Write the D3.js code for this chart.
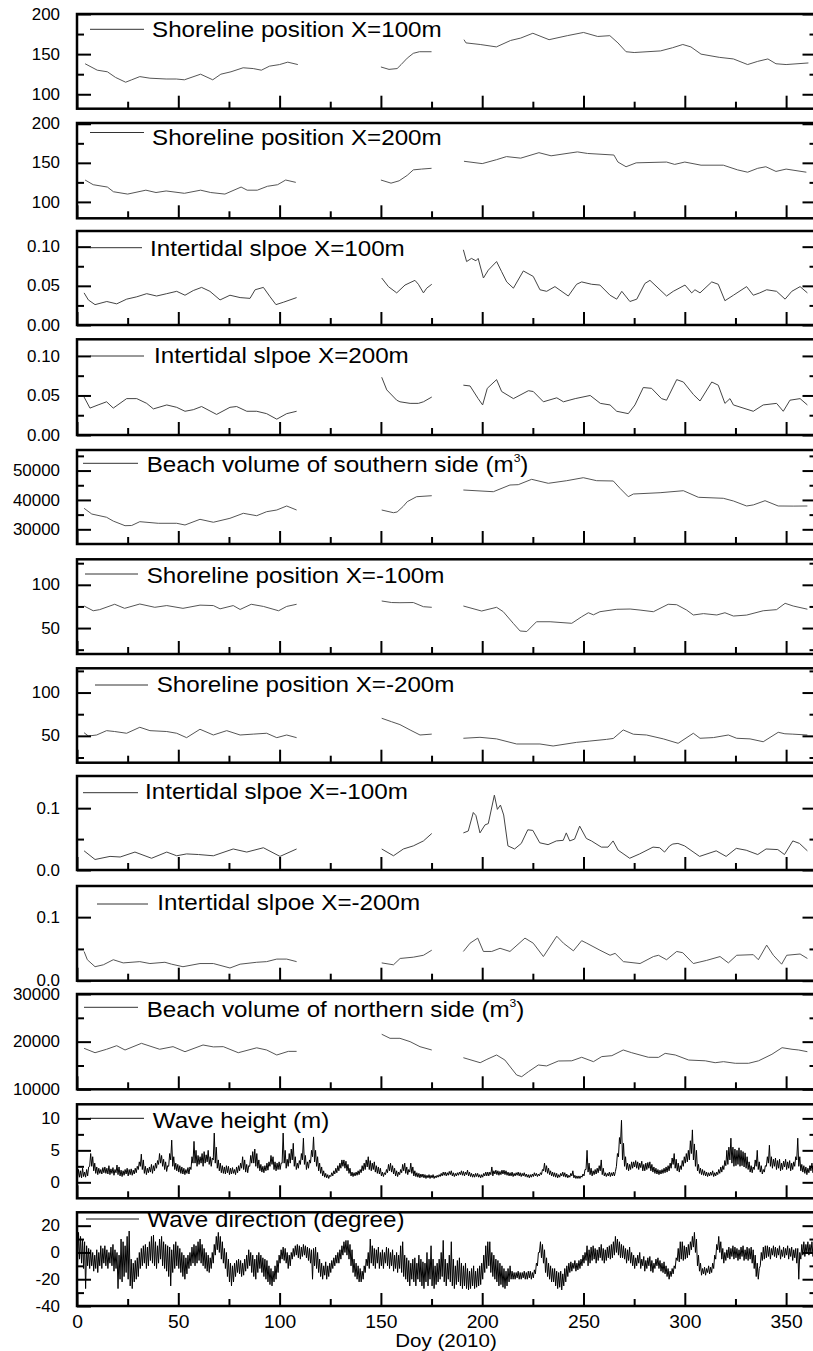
<!DOCTYPE html>
<html><head><meta charset="utf-8">
<script src="https://cdn.jsdelivr.net/npm/d3@7"></script>
<style>body{margin:0;background:#fff}svg{display:block}</style>
</head><body>
<svg id="c" width="813" height="1351"></svg>
<script>
// ---------------- DATA ----------------
const xMajor = [0,50,100,150,200,250,300,350];
const xMinor = [25,75,125,175,225,275,325];
const xTitle = "Doy (2010)";

const titles = ["Shoreline position X=100m","Shoreline position X=200m","Intertidal slpoe X=100m","Intertidal slpoe X=200m",
 "Beach volume of southern side (m","Shoreline position X=-100m","Shoreline position X=-200m","Intertidal slpoe X=-100m",
 "Intertidal slpoe X=-200m","Beach volume of northern side (m","Wave height (m)","Wave direction (degree)"];
const titleSup = [null,null,null,null,"3",null,null,null,null,"3",null,null];

const domains = [[82,200],[79,201],[0,0.12],[0,0.121],[25000,57000],[20,129.5],[19,128],[0,0.152],[0,0.149],[10000,30000],[-2.5,12.2],[-40,30]];
const yMajor = [[100,150,200],[100,150,200],[0,0.05,0.1],[0,0.05,0.1],[30000,40000,50000],[50,100],[50,100],[0,0.1],[0,0.1],[10000,20000,30000],[0,5,10],[-40,-20,0,20]];
const yMinor = [[125,175],[125,175],[0.025,0.075],[0.025,0.075],[35000,45000,55000],[25,75,125],[25,75,125],[0.05],[0.05],[15000,25000],[2.5,7.5],[-30,-10,10]];
const yDecimals = [0,0,2,2,0,0,0,1,1,0,0,0];

const shore100 = [[4,138],[10,130],[15,128],[19,121],[24,115],[27,118],[31,122],[36,120],[44,119],[49,119],[53,118],[61,125],[67,118],[71,125],[76,128],[82,133],[87,132],[91,130],[95,135],[100,137],[104,140],[109,137],null,
 [150,134],[154,131],[158,132],[160,137],[163,145],[166,151],[169,153],[175,153],null,
 [191,168],[192,164],[199,162],[207,159],[214,167],[219,170],[225,176],[233,168],[242,173],[250,177],[257,172],[263,173],[267,164],[271,153],[275,152],[288,154],[294,158],[299,162],[303,159],[308,150],[317,146],[324,144],[331,137],[336,141],[341,144],[345,138],[350,137],[361,139]];

const shore200 = [[4,128],[8,122],[15,119],[18,113],[25,110],[34,115],[39,112],[44,114],[53,111],[61,115],[66,112],[73,110],[81,119],[84,115],[89,115],[94,120],[99,122],[103,128],[108,125],null,
 [150,128],[155,124],[159,127],[163,134],[166,141],[170,142],[175,143],null,
 [191,152],[200,149],[207,154],[212,158],[219,156],[228,163],[234,159],[247,164],[252,162],[265,160],[267,151],[271,145],[276,150],[291,151],[295,148],[300,151],[308,147],[319,147],[326,141],[331,138],[336,143],[340,145],[345,139],[350,142],[360,138]];

const slope100 = [[3.5,0.041],[5.6,0.032],[8.9,0.026],[14.7,0.030],[19.6,0.027],[24.5,0.033],[29.5,0.036],[34.4,0.040],[39.3,0.037],[44.3,0.040],[49.2,0.043],[53.3,0.038],[57.4,0.044],[61.5,0.048],[65.6,0.043],[70.6,0.032],[75.5,0.038],[80.5,0.035],[85.4,0.034],[87.9,0.045],[92,0.048],[95.3,0.036],[98.2,0.026],[101.8,0.029],[108.4,0.035],null,
 [150.4,0.060],[153.7,0.049],[157.8,0.041],[161.9,0.051],[166.8,0.057],[168.5,0.052],[171,0.041],[172.6,0.047],[175.1,0.052],null,
 [190.7,0.096],[192.3,0.081],[194.7,0.085],[196.9,0.082],[198,0.085],[200.6,0.060],[203,0.070],[207.1,0.081],[209.6,0.068],[212.1,0.055],[215.4,0.047],[220.3,0.069],[225.2,0.062],[228.5,0.045],[231.8,0.043],[235.9,0.049],[242.5,0.037],[246.6,0.052],[249.1,0.055],[254,0.052],[258.1,0.051],[263.1,0.038],[266.4,0.033],[268.9,0.043],[272.9,0.030],[276.3,0.033],[280.3,0.053],[282.8,0.057],[291,0.037],[294.3,0.043],[300.1,0.051],[303.4,0.041],[305,0.045],[307.5,0.041],[313.3,0.055],[316.5,0.052],[319.8,0.031],[324,0.038],[330.5,0.049],[333.8,0.038],[337,0.041],[340.4,0.045],[345.3,0.043],[349.5,0.033],[352.8,0.043],[356.9,0.049],[360.5,0.041]];

const slope200 = [[3.5,0.048],[6.4,0.034],[10.4,0.038],[14.6,0.042],[17.9,0.034],[24.5,0.046],[29.5,0.046],[34.4,0.040],[37.7,0.033],[44.3,0.038],[49.2,0.035],[53.3,0.030],[57.4,0.032],[61.5,0.036],[68.9,0.026],[75.5,0.035],[78.8,0.036],[83.8,0.030],[88.7,0.030],[93.6,0.027],[98.6,0.020],[103.5,0.027],[108.4,0.030],null,
 [150.4,0.073],[152.9,0.057],[157.8,0.044],[159.4,0.042],[164.4,0.040],[168.5,0.040],[171,0.042],[175.1,0.048],null,
 [190.7,0.063],[194,0.062],[198,0.046],[200.2,0.038],[202.5,0.059],[207.1,0.070],[209.6,0.055],[215.4,0.046],[222.8,0.056],[225.2,0.055],[230.2,0.042],[236.8,0.047],[240.1,0.042],[245.9,0.046],[253.3,0.050],[258.3,0.040],[263.1,0.038],[266.4,0.030],[272.1,0.027],[275.4,0.038],[279.5,0.060],[283.6,0.059],[288.5,0.046],[291,0.044],[296,0.070],[299.3,0.067],[304.3,0.051],[307.5,0.043],[313.3,0.067],[316.5,0.063],[319.8,0.040],[322.3,0.046],[324,0.038],[333.8,0.030],[338.7,0.038],[345.3,0.040],[348.6,0.030],[351.9,0.044],[356.9,0.046],[360.5,0.038]];

const volSouth = [[3.5,37150],[7.3,35200],[14.6,34100],[17.9,32800],[23.7,31230],[27,31300],[31,32600],[40.1,32050],[49.2,32050],[53.3,31470],[60.7,33400],[67.3,32400],[75.5,33750],[82.1,35450],[88.7,34630],[93.6,36000],[98.6,36570],[103.5,37940],[108.4,36570],null,
 [150.4,36570],[156.2,35650],[158,35900],[161,37800],[163,39400],[167.6,41100],[175.1,41440],null,
 [190.7,43380],[205.5,42800],[213.7,45080],[217.8,45200],[224.4,47020],[232.6,45660],[241.7,46550],[249.9,47570],[256.5,46550],[264.7,46450],[268,43960],[272.1,41100],[274.6,42020],[287.8,42460],[299.3,43140],[306.7,40900],[319,40560],[324,39640],[330.5,37940],[333.8,38300],[339.6,39740],[346.1,37940],[353.5,37900],[360.5,37940]];

const shoreM100 = [[3.5,75.5],[8,70],[11.2,71.3],[18.6,77.5],[23.5,72.8],[31,77.8],[38.4,74],[44.3,76],[52.3,72.8],[60.7,76.5],[67.3,76],[70.6,72.2],[77.1,76],[80.5,71.5],[86,77.5],[92,75],[99.5,70],[103.5,75],[108.4,77.5],null,
 [150.4,81.3],[155.3,79.5],[159.4,79.3],[166,79.5],[171,74.7],[175.1,74],null,
 [190.7,75.5],[199.7,69.7],[207.1,74],[210.4,68.9],[215.3,55.5],[218.7,46.6],[222,46],[226.8,57.3],[233.5,57.3],[244.2,55.5],[249.1,63.1],[252.4,67.7],[254.9,65.3],[258.1,68.9],[266.4,71.7],[273,72],[277.9,70.8],[284.5,68.9],[291.8,77.5],[296,77],[300.9,70.8],[304.2,65.1],[309.2,66.7],[315.8,65.1],[319.8,67.7],[324,63.9],[330.5,65],[338.7,70],[345.3,71.3],[349.5,78.6],[353.5,75.5],[360.5,71.8]];

const shoreM200 = [[3.5,53.6],[5.6,49.8],[9.7,51],[14.6,56],[18.6,55],[24.5,53],[31,59.9],[36,56],[44.3,55],[49.2,53],[54.1,47.9],[60.7,57.6],[67.3,51],[73.9,56],[80.5,51],[87,52],[93.6,53],[98.6,47.9],[103.5,51],[108.4,47.9],null,
 [150.4,70.3],[155.3,66.3],[159.4,63],[164.4,56.8],[169.3,51],[175.1,52],null,
 [190.7,47.2],[198.9,48.3],[207.1,46.5],[217,40.6],[228.5,40.6],[235,38.3],[246.6,42.5],[253.1,44],[261.3,45.9],[264.7,47],[269.6,56.8],[274.6,51.9],[281.1,51],[289.4,46.5],[296.7,41.4],[304.2,53],[307.5,47.2],[314.1,48],[321.5,51],[325.6,47.2],[332.2,46.5],[338.7,43.2],[346.1,54.1],[349.4,52.4],[353,52],[360.5,51]];

const slopeM100 = [[3.5,0.031],[8.9,0.017],[16.3,0.022],[21.3,0.021],[28.6,0.029],[36.8,0.019],[44.3,0.029],[49.2,0.023],[54.1,0.026],[60,0.025],[67.3,0.023],[77.1,0.034],[83.8,0.029],[92,0.036],[100.2,0.022],[108.4,0.034],null,
 [150.4,0.034],[156.2,0.023],[161.1,0.034],[166,0.039],[171,0.047],[175.1,0.059],null,
 [190.7,0.060],[193.1,0.063],[195.6,0.093],[196.9,0.088],[198.9,0.060],[201.4,0.073],[203,0.075],[206,0.121],[207.5,0.098],[209,0.105],[210.6,0.089],[212.7,0.039],[216,0.034],[219.3,0.043],[222.5,0.065],[225,0.064],[228.4,0.044],[232.5,0.041],[236.6,0.047],[240,0.048],[241.5,0.060],[243.2,0.047],[245.6,0.050],[248.1,0.071],[251.4,0.051],[253.9,0.047],[258.8,0.037],[262.1,0.037],[264.6,0.047],[267.1,0.032],[272.8,0.019],[277.7,0.026],[284.3,0.037],[287.6,0.036],[290,0.029],[292.5,0.039],[294.1,0.042],[296.6,0.043],[299.9,0.039],[307.3,0.022],[315.5,0.031],[320.4,0.022],[325.4,0.035],[330.3,0.032],[336,0.025],[340.1,0.034],[345.9,0.033],[349.2,0.025],[353.3,0.047],[356.6,0.043],[360.5,0.031]];

const slopeM200 = [[3.5,0.046],[5.1,0.033],[8.9,0.022],[13,0.025],[17.9,0.033],[22.8,0.028],[31,0.030],[36,0.027],[43.4,0.029],[46.7,0.026],[52.3,0.022],[60.7,0.027],[67.3,0.027],[75.5,0.020],[80.5,0.026],[88.7,0.029],[93.6,0.030],[98.6,0.034],[103.5,0.034],[108.4,0.030],null,
 [150.4,0.028],[156.2,0.025],[159.5,0.035],[166,0.037],[171,0.040],[175.1,0.048],null,
 [190.7,0.046],[194,0.059],[197.8,0.067],[200.6,0.046],[204.7,0.046],[208.8,0.051],[213.7,0.046],[221.1,0.067],[225.2,0.059],[230.2,0.038],[236.8,0.070],[240.1,0.059],[245,0.047],[249.1,0.063],[251.6,0.059],[258.1,0.048],[263.1,0.040],[265.6,0.043],[269.7,0.030],[277.9,0.027],[284.5,0.038],[287,0.040],[291,0.033],[296,0.046],[299,0.044],[304.2,0.027],[310.8,0.032],[317.4,0.038],[321.5,0.028],[325.6,0.040],[333.8,0.041],[336.3,0.033],[340.4,0.056],[343.7,0.040],[347.8,0.026],[350.3,0.040],[356.9,0.042],[360.5,0.035]];

const volNorth = [[3.5,18600],[8.9,17680],[14.6,18400],[19.6,19150],[23.7,18250],[31.8,19650],[40.8,18400],[47.4,18950],[53.3,17890],[62.2,19300],[67.3,18900],[72.2,18950],[79.6,17680],[88.7,18710],[93.6,18250],[98.6,17200],[104.3,17960],[108.4,17960],null,
 [150.4,21550],[154.5,20700],[159.4,20700],[164.4,20000],[169.3,18940],[175.1,18250],null,
 [190.7,16630],[199,15580],[202.3,16280],[207.1,17200],[211.2,16140],[217,13000],[219.5,12650],[222.8,13690],[227.7,15100],[231.8,14900],[237.6,15940],[244.2,15980],[249.1,16720],[254.9,15800],[259,16860],[264,17060],[269.6,18250],[273.8,17680],[282,16720],[287,16700],[290.3,17540],[295.3,17200],[301.9,16140],[310.1,15980],[315,15580],[319.1,15800],[324.9,15460],[331.5,15460],[336.4,15980],[343,17350],[348,18730],[352.9,18400],[356.2,18250],[360.5,17890]];

// daily low / high of the wave traces, days 0..363
const waveHLo = [0.6,0.8,0.7,0.9,0.8,1.0,2.5,2.5,1.8,1.4, 1.2,1.4,1.3,1.5,1.4,1.3,1.2,1.4,1.1,1.5, 1.2,1.0,0.9,1.1,1.3,1.0,1.2,1.1,1.3,1.5,
 2.0,2.5,2.0,1.4,1.2,1.5,1.6,1.4,1.8,2.2, 2.8,3.0,2.5,2.0,1.7,2.5,3.5,2.5,2.0,1.8, 1.6,1.4,1.3,1.2,1.4,1.3,2.0,3.0,3.0,2.5,
 2.8,3.0,2.5,3.0,3.2,2.8,2.5,3.5,3.0,2.2, 1.8,1.5,1.4,1.3,1.5,1.2,1.3,1.4,1.2,1.5, 1.8,2.2,2.0,1.6,1.5,2.5,3.0,3.0,2.5,2.2,
 1.8,1.6,1.5,1.8,1.9,2.5,2.8,2.0,1.8,2.0, 2.0,3.0,3.0,2.2,2.5,3.0,3.5,2.5,2.0,2.2, 2.8,3.5,2.8,2.0,2.2,3.0,4.0,3.2,2.5,1.8,
 1.4,1.0,0.8,0.7,0.6,0.9,1.0,1.3,1.5,1.8, 2.2,2.5,2.2,1.8,1.4,1.0,0.9,1.0,1.1,1.2, 1.5,1.8,2.0,2.4,2.0,1.8,2.0,1.6,1.4,1.3,
 1.0,0.9,1.2,1.5,1.8,1.6,1.3,1.0,0.9,1.2, 1.5,1.8,1.4,1.2,1.6,1.4,1.0,0.9,0.8,0.7, 0.8,0.7,0.6,0.7,0.6,0.7,0.6,0.7,0.8,0.9,
 1.0,1.1,1.0,1.1,1.2,1.0,0.9,1.0,1.1,1.2, 1.1,1.0,1.2,1.0,0.9,0.8,0.8,0.9,0.8,0.7, 0.8,1.0,1.0,1.0,1.2,1.0,1.3,1.2,1.1,1.2,
 1.3,1.2,1.1,1.0,1.0,0.9,1.0,1.1,1.0,0.9, 1.0,0.9,0.8,0.7,0.8,0.9,1.0,0.9,1.0,1.2, 1.8,1.6,1.4,1.2,1.0,0.9,0.8,0.7,0.8,1.0,
 0.9,0.8,0.7,0.8,1.0,0.7,0.6,0.6,0.6,0.8, 1.0,2.0,1.6,1.2,1.0,1.2,1.3,1.5,1.8,1.2, 1.0,0.9,1.0,0.9,1.0,1.0,2.5,4.0,6.0,3.5,
 2.5,2.0,1.8,2.0,2.2,2.4,2.2,2.0,2.3,1.8, 1.8,2.0,2.2,1.8,1.6,1.4,1.3,1.2,1.3,1.4, 1.5,1.6,1.8,2.2,2.8,2.2,1.8,1.6,2.0,2.5,
 3.0,3.2,3.5,4.5,3.5,2.5,1.8,1.4,1.2,1.1, 1.0,0.9,1.0,1.1,0.9,1.0,1.2,1.4,1.6,2.0, 2.6,2.8,3.5,3.0,2.5,2.6,2.8,2.5,2.6,2.4,
 2.2,2.0,1.6,1.5,2.0,2.5,2.0,1.6,1.3,1.6, 2.5,3.0,2.5,2.2,2.5,2.0,2.2,1.8,2.0,2.4, 2.0,2.2,1.8,2.0,2.5,3.5,2.5,1.8,1.6,1.4,
 1.2,1.5,1.8,1.5];
const waveHHi = [2.0,1.8,2.2,1.6,2.0,2.4,4.5,4.0,3.0,2.4, 2.2,2.0,2.3,2.4,2.2,2.6,2.1,2.3,2.0,2.7, 2.4,1.9,1.8,2.0,2.2,2.0,2.1,1.9,2.2,2.5,
 3.2,4.4,3.5,2.5,2.2,2.4,2.8,2.6,3.0,3.4, 4.5,4.2,3.6,3.2,2.6,4.5,6.6,4.0,3.0,2.8, 2.6,2.4,2.2,2.0,2.3,2.4,4.0,6.4,5.0,4.2,
 4.0,4.5,4.8,4.3,5.0,4.0,3.8,7.7,5.5,3.5, 3.0,2.6,2.4,2.6,2.5,2.2,2.3,2.0,2.4,2.6, 3.0,4.0,3.5,2.8,2.6,4.2,4.8,5.2,4.5,3.5,
 2.8,2.5,2.6,3.0,3.2,4.2,4.0,3.2,3.0,3.2, 3.0,7.7,5.0,3.6,4.5,5.2,6.1,4.0,3.0,3.4, 4.5,6.9,4.2,3.2,3.5,5.0,7.1,5.0,4.0,3.0,
 2.4,1.8,1.4,1.2,1.1,1.5,1.8,2.2,2.6,3.0, 3.5,3.5,3.3,2.8,2.2,1.6,1.5,1.6,1.8,2.0, 2.6,3.0,3.5,4.0,3.4,3.0,3.2,2.6,2.4,2.2,
 1.6,1.5,2.0,2.8,3.0,2.6,2.2,1.8,1.6,2.0, 2.8,3.0,2.4,2.0,3.0,2.4,1.8,1.5,1.4,1.3, 1.3,1.2,1.1,1.2,1.1,1.2,1.0,1.1,1.2,1.4,
 1.6,1.6,1.5,1.7,1.8,1.5,1.4,1.5,1.6,1.8, 1.7,1.6,1.9,1.6,1.4,1.3,1.4,1.4,1.2,1.2, 1.4,1.6,1.6,1.6,2.4,1.8,1.9,1.8,1.7,1.9,
 1.9,1.8,1.6,1.5,1.6,1.4,1.5,1.6,1.5,1.4, 1.5,1.3,1.2,1.2,1.3,1.5,1.4,1.3,1.5,2.0, 3.0,2.6,2.2,1.8,1.6,1.5,1.4,1.2,1.4,1.6,
 1.5,1.3,1.1,1.4,1.8,1.1,1.0,1.0,1.0,1.3, 2.0,5.0,3.0,2.2,1.8,2.0,2.2,2.6,3.5,2.2, 1.5,1.4,1.6,1.5,1.6,1.7,4.5,7.0,9.7,6.1,
 4.0,3.0,2.8,3.2,3.2,3.4,3.2,3.0,3.3,2.8, 3.0,3.1,3.2,2.8,2.4,2.2,2.0,1.9,2.0,2.2, 2.4,2.6,3.0,3.8,4.5,3.6,3.0,2.6,3.4,4.0,
 4.5,5.0,6.5,8.2,6.0,5.0,2.8,2.2,2.0,1.8, 1.6,1.5,1.6,1.8,1.5,1.6,2.0,2.4,2.6,3.4, 5.0,5.5,6.9,5.5,5.2,5.0,5.4,5.0,4.8,4.6,
 4.0,3.2,2.6,2.4,3.5,5.0,3.2,2.6,2.0,2.6, 4.0,5.8,4.0,3.6,3.8,3.4,3.6,3.0,3.3,3.6, 3.2,3.4,3.0,3.2,4.0,6.9,4.0,2.8,2.6,2.4,
 2.2,2.6,3.0,2.5];

const waveDLo = [-10,-5,-8,-12,-27,-10,-12,-10,-14,-12, -15,-10,-12,-8,-10,-12,-8,-10,-14,-12, -27,-20,-22,-18,-15,-20,-25,-27,-22,-20,
 -18,-12,-10,-8,-12,-10,-6,-8,-10,-12, -8,-5,-10,-12,-14,-18,-25,-15,-12,-10, -12,-15,-18,-20,-16,-12,-10,-8,-10,-8,
 -6,-8,-10,-12,-14,-15,-12,-8,-2,2, 0,-5,-8,-12,-18,-22,-25,-22,-18,-15, -16,-18,-17,-14,-12,-10,-15,-18,-20,-15,
 -12,-15,-18,-20,-22,-24,-25,-22,-20,-15, -8,-5,-6,-8,-12,-10,-5,-3,-2,-4, -5,-3,-2,-4,-6,-8,-20,-10,-12,-15,
 -18,-20,-17,-20,-18,-15,-12,-10,-8,-8, -5,-2,0,-2,-5,-10,-15,-18,-20,-22, -22,-20,-15,-10,-12,-8,-10,-12,-8,-12,
 -10,-12,-8,-10,-12,-10,-14,-12,-15,-12, -15,-18,-20,-22,-25,-20,-22,-25,-20,-22, -25,-27,-22,-25,-20,-25,-27,-24,-22,-20,
 -18,-22,-25,-20,-22,-25,-27,-24,-22,-25, -27,-25,-27,-28,-27,-25,-27,-26,-25,-24, -20,-15,-12,-10,-15,-18,-20,-22,-25,-24,
 -26,-27,-25,-22,-20,-20,-20,-19,-20,-20, -19,-20,-20,-19,-20,-19,-16,-10,0,-4, -8,-15,-18,-20,-22,-22,-25,-27,-26,-28,
 -25,-22,-18,-15,-14,-12,-14,-13,-12,-10, -8,-6,-10,-8,-6,-5,-8,-6,-4,-6, -8,-6,-4,-5,-4,-2,0,-2,-4,-4,
 -5,-8,-6,-8,-10,-12,-10,-8,-12,-10, -14,-12,-10,-14,-15,-12,-10,-12,-14,-15, -16,-18,-20,-18,-16,-12,-6,-7,-5,-6,
 -5,-4,-2,2,4,0,-10,-14,-17,-16, -17,-15,-16,-15,-12,-5,2,0,-5,-8, -6,-4,-5,-3,-5,-4,-6,-5,-3,-6,
 -5,-6,-5,-8,-12,-18,-20,-10,-6,-5, -4,-3,-5,-2,-3,-4,-2,-5,-3,-4, -2,-5,-3,-6,-4,-8,-20,-5,-2,-3,
 0,-2,0,-3];
const waveDHi = [15,12,10,8,5,3,2,0,-2,2, 0,5,3,5,2,0,4,6,2,0, -2,10,8,5,12,16,-5,-8,-6,-4,
 0,3,5,6,4,8,12,13,8,5, 10,12,8,6,5,4,2,6,8,5, 3,0,-2,-4,-2,0,4,6,5,8,
 10,6,3,0,-2,-4,0,6,12,15, 12,8,3,0,-5,-8,-10,-8,-6,-5, -6,-8,-5,-2,2,0,-2,-5,-2,0,
 -2,-4,-5,-6,-10,-12,-14,-10,-6,-2, 2,4,3,0,-2,0,3,5,6,5, 4,6,5,4,3,2,3,4,0,-5,
 -8,-10,-7,-10,-8,-6,-4,-2,0,2, 5,8,9,9,6,2,-5,-8,-10,-12, -14,-10,-5,0,10,5,3,2,4,0,
 2,0,4,3,0,2,-2,0,-2,5, 8,-2,-4,-6,-8,-5,-4,-8,-2,-5, -7,-8,0,-5,5,-5,-10,-8,-5,0,
 9,-5,-8,-2,8,-5,-10,-6,-4,-8, -10,-8,-12,-14,-12,-10,-14,-12,-10,-8, -2,5,8,8,0,-2,-5,-6,-8,-10,
 -12,-14,-12,-10,-14,-15,-15,-14,-15,-15, -14,-15,-14,-14,-15,-13,-8,0,8,6, 2,-4,-8,-10,-12,-12,-14,-15,-14,-16,
 -12,-10,-8,-7,-8,-6,-8,-6,-5,-2, 0,5,2,4,5,3,2,4,6,3, 2,4,5,6,8,12,10,8,6,5,
 3,2,4,0,-2,-4,-2,0,-5,-3, -6,-4,-3,-6,-8,-5,-4,-6,-8,-7, -10,-12,-14,-12,-10,-4,3,8,8,5,
 4,6,8,12,15,10,-2,-8,-12,-11, -12,-10,-11,-8,-2,6,12,8,3,0, 2,4,3,5,4,3,2,4,5,2,
 4,3,4,2,-2,-8,-12,0,4,5, 5,4,3,5,4,3,5,2,4,3, 5,3,4,2,3,3,0,6,8,6,
 8,6,8,5];

// ---------------- LAYOUT ----------------
const FONT = '"Liberation Sans", Arial, Helvetica, sans-serif';
const layout = [
 {top:14, bottom:108.7, leg:[90,144,15.3], txt:[152,23.3]},
 {top:123, bottom:218.3, leg:[90,144,9.5], txt:[152,22]},
 {top:231, bottom:325, leg:[90,142,16.7], txt:[150,24.7]},
 {top:339.3, bottom:435, leg:[90,144,16.7], txt:[154,24]},
 {top:450, bottom:544, leg:[83,138,13.3], txt:[146.7,21.7]},
 {top:559.3, bottom:654, leg:[85,138,14.7], txt:[146.7,23.4]},
 {top:668.3, bottom:762.7, leg:[95,148,16.7], txt:[156.7,23.4]},
 {top:776, bottom:870, leg:[83,138,16.7], txt:[145,23.3]},
 {top:886, bottom:980.7, leg:[97,148,18], txt:[157.3,24]},
 {top:994, bottom:1089.3, leg:[84,138,13.3], txt:[146.7,22.7]},
 {top:1104.3, bottom:1198.3, leg:[90,144,14], txt:[152.7,24]},
 {top:1212.3, bottom:1306, leg:[86,139,6.7], txt:[147.3,14.4]}
];

function zigzag(lo, hi){
  const pts=[];
  lo.forEach((v,i)=>{ pts.push([i+0.25, v]); pts.push([i+0.75, hi[i]]); });
  return pts;
}
const seriesList = [shore100, shore200, slope100, slope200, volSouth, shoreM100, shoreM200, slopeM100, slopeM200, volNorth,
  zigzag(waveHLo, waveHHi), zigzag(waveDLo, waveDHi)];
const seriesColor = ["#555","#555","#444","#444","#555","#555","#555","#444","#555","#555","#000","#000"];

// ---------------- DRAW ----------------
const svg = d3.select("#c");
const X0 = 77, X1 = 816.5;
const x = d3.scaleLinear().domain([0,365]).range([X0, X1]);

layout.forEach((L, i) => {
  const y = d3.scaleLinear().domain(domains[i]).range([L.bottom, L.top]);
  const cid = "clip"+i;
  svg.append("clipPath").attr("id",cid).append("rect")
    .attr("x",X0).attr("y",L.top).attr("width",X1-X0).attr("height",L.bottom-L.top);

  svg.append("path").datum(seriesList[i])
    .attr("clip-path",`url(#${cid})`)
    .attr("fill","none").attr("stroke",seriesColor[i]).attr("stroke-width",1)
    .attr("d", d3.line().defined(d=>d).x(d=>x(d[0])).y(d=>y(d[1])));

  const styleAxis = g => { g.select(".domain").remove(); g.selectAll("line").attr("stroke","#000").attr("stroke-width",2); };

  // left axis
  const gl = svg.append("g").attr("transform",`translate(${X0},0)`)
    .call(d3.axisLeft(y).tickValues(yMajor[i]).tickSize(-14).tickPadding(16).tickFormat(d=>d.toFixed(yDecimals[i])));
  styleAxis(gl);
  gl.selectAll("text").attr("font-size",16).attr("font-family",FONT).attr("fill","#000").attr("transform","scale(1.06,1)");
  svg.append("g").attr("transform",`translate(${X0},0)`)
    .call(d3.axisLeft(y).tickValues(yMinor[i]).tickSize(-7).tickFormat("")).call(styleAxis);
  // right axis
  svg.append("g").attr("transform",`translate(${X1},0)`)
    .call(d3.axisRight(y).tickValues(yMajor[i]).tickSize(-14).tickFormat("")).call(styleAxis);
  svg.append("g").attr("transform",`translate(${X1},0)`)
    .call(d3.axisRight(y).tickValues(yMinor[i]).tickSize(-7).tickFormat("")).call(styleAxis);
  // bottom axis
  const last = i === layout.length-1;
  const gb = svg.append("g").attr("transform",`translate(0,${L.bottom})`)
    .call(d3.axisBottom(x).tickValues(xMajor).tickSize(-13).tickPadding(9).tickFormat(last ? d=>String(d) : ""));
  styleAxis(gb);
  gb.selectAll("text").attr("font-size",18).attr("font-family",FONT).attr("fill","#000").attr("transform","scale(1.07,1)");
  svg.append("g").attr("transform",`translate(0,${L.bottom})`)
    .call(d3.axisBottom(x).tickValues(xMinor).tickSize(-7).tickFormat("")).call(styleAxis);

  // frame
  svg.append("rect").attr("x",X0).attr("y",L.top).attr("width",X1-X0).attr("height",L.bottom-L.top)
    .attr("fill","none").attr("stroke","#000").attr("stroke-width",2.5);

  // legend
  svg.append("line").attr("x1",L.leg[0]).attr("x2",L.leg[1]).attr("y1",L.top+L.leg[2]).attr("y2",L.top+L.leg[2])
    .attr("stroke",seriesColor[i]==="#000"?"#111":"#333").attr("stroke-width",1);
  const t = svg.append("text").attr("font-family",FONT).attr("font-size",22).attr("fill","#000")
    .attr("transform",`translate(${L.txt[0]},${L.top+L.txt[1]}) scale(1.1,1)`);
  t.append("tspan").text(titles[i]);
  if (titleSup[i]) {
    t.append("tspan").attr("font-size",11).attr("dy",-10).text(titleSup[i]);
    t.append("tspan").attr("font-size",22).attr("dy",10).text(")");
  }
});

svg.append("text").attr("font-family",FONT).attr("font-size",19).attr("fill","#000")
  .attr("text-anchor","middle").attr("transform","translate(446,1346.5) scale(1.08,1)").text(xTitle);
</script>
</body></html>
